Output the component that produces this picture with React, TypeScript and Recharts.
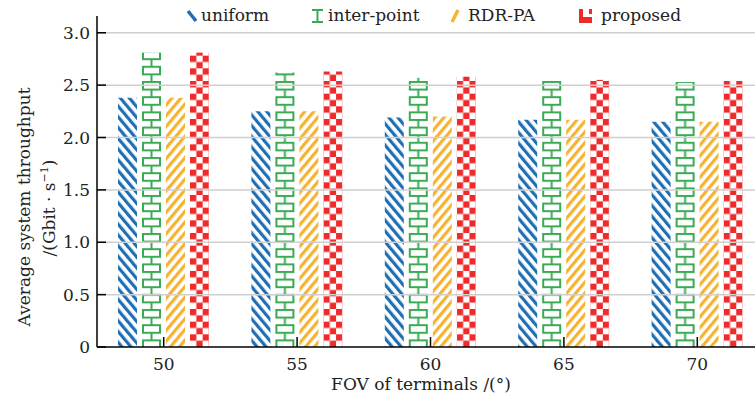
import React from "react";
import { BarChart, Bar, XAxis, YAxis, ReferenceLine } from "recharts";

// FOV of terminals (degrees)
const fovs = ["50", "55", "60", "65", "70"];
// Average system throughput, Gbit/s
const uniform = [2.38, 2.25, 2.19, 2.17, 2.15];
const interPoint = [2.81, 2.62, 2.57, 2.54, 2.53];
const rdrPa = [2.38, 2.25, 2.2, 2.17, 2.15];
const proposed = [2.81, 2.63, 2.58, 2.55, 2.54];
const yTicks = [0, 0.5, 1, 1.5, 2, 2.5, 3];

const BLUE = "#1f6fb5";
const GREEN = "#3aaa55";
const ORANGE = "#f6b331";
const RED = "#ee2a2a";
const FONT = "'DejaVu Serif', serif";

const data = fovs.map((fov, i) => ({
	fov,
	uniform: uniform[i],
	interPoint: interPoint[i],
	rdrPa: rdrPa[i],
	proposed: proposed[i],
}));

const CheckerBar = (props: any) => {
	const { x, y, width, height, index } = props;
	if (!height || height <= 0) return null;
	const c = width / 3;
	const id = `checker-${index}`;
	return (
		<g>
			<defs>
				<pattern id={id} patternUnits='userSpaceOnUse' x={x} y={y + height} width={2 * c} height={2 * c}>
					<rect width={2 * c} height={2 * c} fill='#fff' />
					<rect x={0} y={0} width={c} height={c} fill={RED} />
					<rect x={c} y={c} width={c} height={c} fill={RED} />
				</pattern>
			</defs>
			<rect x={x} y={y} width={width} height={height} fill={`url(#${id})`} />
		</g>
	);
};

const BrickBar = (props: any) => {
	const { x, y, width, height, index } = props;
	if (!height || height <= 0) return null;
	const h = 7.6;
	const id = `brick-${index}`;
	return (
		<g>
			<defs>
				<pattern id={id} patternUnits='userSpaceOnUse' x={x} y={y + height} width={width} height={2 * h}>
					<rect width={width} height={2 * h} fill='#fff' />
					<line x1={0} x2={width} y1={1} y2={1} stroke={GREEN} strokeWidth={2} />
					<line x1={0} x2={width} y1={1 + h} y2={1 + h} stroke={GREEN} strokeWidth={2} />
					<line x1={width / 2} x2={width / 2} y1={1} y2={1 + h} stroke={GREEN} strokeWidth={2} />
					<line x1={1} x2={1} y1={1 + h} y2={1 + 2 * h} stroke={GREEN} strokeWidth={2} />
					<line x1={width - 1} x2={width - 1} y1={1 + h} y2={1 + 2 * h} stroke={GREEN} strokeWidth={2} />
				</pattern>
			</defs>
			<rect x={x} y={y} width={width} height={height} fill={`url(#${id})`} />
		</g>
	);
};

const YTick = (props: any) => {
	const { x, y, payload } = props;
	const v = payload.value;
	return (
		<g>
			<line x1={x + 7} x2={x + 16} y1={y} y2={y} stroke='#000' strokeWidth={1.5} />
			<text x={x} y={y} dy={6} textAnchor='end' fontFamily={FONT} fontSize={17} fill='#222'>
				{v === 0 ? "0" : v.toFixed(1)}
			</text>
		</g>
	);
};

const XTick = (props: any) => {
	const { x, y, payload } = props;
	return (
		<g>
			<line x1={x} x2={x} y1={y - 12} y2={y - 22} stroke='#000' strokeWidth={1.5} />
			<text x={x} y={y} dy={11} textAnchor='middle' fontFamily={FONT} fontSize={17} fill='#222'>
				{payload.value}
			</text>
		</g>
	);
};

const legendItems = [
	{ label: "uniform", x: 186, dx: 15 },
	{ label: "inter-point", x: 312, dx: 16 },
	{ label: "RDR-PA", x: 450, dx: 18 },
	{ label: "proposed", x: 579, dx: 22 },
];

function LegendMarker({ i, x }: { i: number; x: number }) {
	if (i === 0) return <line x1={x + 2} y1={11} x2={x + 10} y2={21} stroke={BLUE} strokeWidth={3.5} />;
	if (i === 1)
		return (
			<path
				d={`M${x} ${10} H${x + 11} M${x + 5.5} ${10} V${22} M${x} ${22} H${x + 11}`}
				stroke={GREEN}
				strokeWidth={2}
				fill='none'
			/>
		);
	if (i === 2) return <line x1={x + 2} y1={22} x2={x + 8} y2={10} stroke={ORANGE} strokeWidth={3.5} />;
	return (
		<g fill={RED}>
			<rect x={x} y={9} width={4} height={14} />
			<rect x={x} y={17} width={13} height={6} />
			<rect x={x + 10} y={9} width={3} height={5} />
		</g>
	);
}

export default function App() {
	return (
		<div style={{ position: "fixed", left: 0, top: 0, width: 755, height: 402, overflow: "hidden", background: "#fff" }}>
			<BarChart
				width={770}
				height={402}
				data={data}
				margin={{ top: 16, right: 6, left: 0, bottom: 0 }}
				barCategoryGap={21}
				barGap={5}
			>
				<defs>
					<pattern id='stripeBlue' patternUnits='userSpaceOnUse' width={6.9} height={12} patternTransform='rotate(-40)'>
						<rect width={6.9} height={12} fill='#fff' />
						<rect x={0} width={3.2} height={12} fill={BLUE} />
					</pattern>
					<pattern id='stripeOrange' patternUnits='userSpaceOnUse' width={6.9} height={12} patternTransform='rotate(40)'>
						<rect width={6.9} height={12} fill='#fff' />
						<rect x={0} width={3.2} height={12} fill={ORANGE} />
					</pattern>
				</defs>
				<XAxis
					dataKey='fov'
					height={55}
					tickLine={false}
					tickSize={0}
					tickMargin={12}
					axisLine={{ stroke: "#000", strokeWidth: 1.5 }}
					tick={<XTick />}
				/>
				<YAxis
					width={97}
					domain={[0, 3.16]}
					ticks={yTicks}
					allowDataOverflow
					tickLine={false}
					tickSize={0}
					tickMargin={7}
					axisLine={{ stroke: "#000", strokeWidth: 1.5 }}
					tick={<YTick />}
				/>
				<Bar dataKey='uniform' fill='url(#stripeBlue)' isAnimationActive={false} />
				<Bar dataKey='interPoint' fill={GREEN} shape={<BrickBar />} isAnimationActive={false} />
				<Bar dataKey='rdrPa' fill='url(#stripeOrange)' isAnimationActive={false} />
				<Bar dataKey='proposed' fill={RED} shape={<CheckerBar />} isAnimationActive={false} />
				{yTicks.slice(1).map((t) => (
					<ReferenceLine key={t} y={t} stroke='#cfcfcf' strokeWidth={1.5} ifOverflow='extendDomain' />
				))}
			</BarChart>
			<svg
				width={755}
				height={402}
				style={{ position: "absolute", left: 0, top: 0, pointerEvents: "none" }}
				fontFamily={FONT}
				fontSize={17}
				fill='#222'
			>
				{legendItems.map((it, i) => (
					<g key={it.label}>
						<LegendMarker i={i} x={it.x} />
						<text x={it.x + it.dx} y={21}>
							{it.label}
						</text>
					</g>
				))}
				<text x={421} y={390} textAnchor='middle'>
					FOV of terminals /(°)
				</text>
				<text transform='translate(30 207) rotate(-90)' textAnchor='middle'>
					Average system throughput
				</text>
				<text transform='translate(55 208) rotate(-90)' textAnchor='middle'>
					/(Gbit · s
					<tspan dy={-7} fontSize={11}>
						−1
					</tspan>
					<tspan dy={7}>)</tspan>
				</text>
			</svg>
		</div>
	);
}
